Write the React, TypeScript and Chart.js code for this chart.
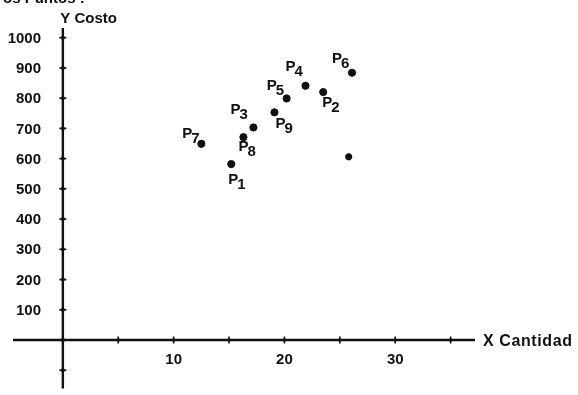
import React, { useEffect, useRef } from "react";
import { Chart, registerables, Plugin } from "chart.js";

Chart.register(...registerables);

// Observed points: quantity (x) vs cost (y)
const pointNames = ["P1", "P2", "P3", "P4", "P5", "P6", "P7", "P8", "P9"];
const cantidad = [15.2, 23.5, 17.2, 21.9, 20.2, 26.1, 12.5, 16.3, 19.1];
const costo = [582, 820, 703, 841, 799, 884, 649, 671, 753];

// Estimated point marked with an asterisk
const estCantidad = [25.8];
const estCosto = [606];

// Axis ticks and labels
const xTicks = [0, 5, 10, 15, 20, 25, 30, 35];
const xTickLabels = ["", "", "10", "", "20", "", "30", ""];
const yTicks = [-100, 0, 100, 200, 300, 400, 500, 600, 700, 800, 900, 1000];
const yTickLabels = ["", "", "100", "200", "300", "400", "500", "600", "700", "800", "900", "1000"];

const xTitle = "X Cantidad";
const yTitle = "Y Costo";
const headerText = "os Puntos :";

// Label placement around each point (dx, dy from point centre to "P" baseline-left)
const labelOffsets: [number, number][] = [
  [-3, 20],
  [-1, 15],
  [-23, -13],
  [-20, -15],
  [-20, -8],
  [-20, -10],
  [-19, -6],
  [-5, 14],
  [1, 16],
];

const FONT = "bold 15px 'Liberation Sans', Arial, sans-serif";
const TITLE_FONT = "bold 16px 'Liberation Sans', Arial, sans-serif";
const INK = "#111";

const axesPlugin: Plugin<"scatter"> = {
  id: "crossAxes",
  afterDraw(chart) {
    const ctx = chart.ctx;
    const xs = chart.scales.x;
    const ys = chart.scales.y;
    const x0 = xs.getPixelForValue(0);
    const y0 = ys.getPixelForValue(0);
    ctx.save();
    ctx.strokeStyle = INK;
    ctx.fillStyle = INK;

    // axis lines
    ctx.lineWidth = 2.4;
    ctx.beginPath();
    ctx.moveTo(xs.left, y0);
    ctx.lineTo(xs.right, y0);
    ctx.moveTo(x0, ys.top);
    ctx.lineTo(x0, ys.bottom);
    ctx.stroke();

    // tick marks crossing the axes
    ctx.lineWidth = 1.6;
    xTicks.forEach((v) => {
      const px = xs.getPixelForValue(v);
      ctx.beginPath();
      ctx.moveTo(px, y0 - 3.5);
      ctx.lineTo(px, y0 + 3.5);
      ctx.stroke();
      ctx.beginPath();
      ctx.arc(px, y0, 1.7, 0, Math.PI * 2);
      ctx.fill();
    });
    yTicks.forEach((v) => {
      const py = ys.getPixelForValue(v);
      ctx.beginPath();
      ctx.moveTo(x0 - 3.5, py);
      ctx.lineTo(x0 + 3.5, py);
      ctx.stroke();
      ctx.beginPath();
      ctx.arc(x0, py, 2, 0, Math.PI * 2);
      ctx.fill();
    });

    // tick labels
    ctx.font = FONT;
    ctx.textAlign = "center";
    ctx.textBaseline = "alphabetic";
    xTicks.forEach((v, i) => {
      if (!xTickLabels[i]) return;
      ctx.fillText(xTickLabels[i], xs.getPixelForValue(v), y0 + 24);
    });
    ctx.textAlign = "right";
    ctx.textBaseline = "middle";
    yTicks.forEach((v, i) => {
      if (!yTickLabels[i]) return;
      ctx.fillText(yTickLabels[i], 41, ys.getPixelForValue(v) + 1);
    });

    // axis titles
    ctx.textAlign = "left";
    ctx.textBaseline = "alphabetic";
    ctx.fillText(yTitle, x0 - 2.5, ys.top - 5);
    ctx.font = TITLE_FONT;
    (ctx as any).letterSpacing = "0.6px";
    ctx.fillText(xTitle, xs.right + 8, y0 + 6);
    (ctx as any).letterSpacing = "0px";
    ctx.font = FONT;

    // header line, running off the top edge
    ctx.fillText(headerText, 3, 3);

    // point labels with subscript numbers
    pointNames.forEach((name, i) => {
      const px = xs.getPixelForValue(cantidad[i]);
      const py = ys.getPixelForValue(costo[i]);
      const [dx, dy] = labelOffsets[i];
      const lx = px + dx;
      const ly = py + dy;
      ctx.fillText(name[0], lx, ly);
      const w = ctx.measureText(name[0]).width;
      ctx.fillText(name.slice(1), lx + w - 1, ly + 5);
    });

    ctx.restore();
  },
};

export default function App() {
  const ref = useRef<HTMLCanvasElement>(null);

  useEffect(() => {
    if (!ref.current) return;
    const chart = new Chart(ref.current, {
      type: "scatter",
      data: {
        datasets: [
          {
            data: cantidad.map((x, i) => ({ x, y: costo[i] })),
            backgroundColor: INK,
            borderColor: INK,
            pointRadius: 3.6,
            pointHoverRadius: 3.6,
          },
          {
            data: estCantidad.map((x, i) => ({ x, y: estCosto[i] })),
            backgroundColor: INK,
            borderColor: INK,
            pointStyle: "star",
            pointRadius: 3.5,
            borderWidth: 2.6,
          },
        ],
      },
      options: {
        responsive: false,
        animation: false,
        layout: { padding: { left: 13, right: 103, top: 28, bottom: 0 } },
        plugins: { legend: { display: false }, tooltip: { enabled: false } },
        scales: {
          x: { type: "linear", display: false, min: -4.5, max: 37.2 },
          y: { type: "linear", display: false, min: -160, max: 1032 },
        },
      },
      plugins: [axesPlugin],
    });
    return () => chart.destroy();
  }, []);

  return (
    <div style={{ position: "fixed", left: 0, top: 0, width: 578, height: 395, background: "#fff" }}>
      <canvas ref={ref} width={578} height={395} />
    </div>
  );
}
